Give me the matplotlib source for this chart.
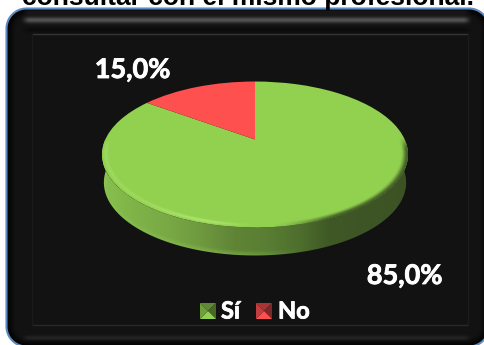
import numpy as np
import matplotlib
matplotlib.use("Agg")
import matplotlib.pyplot as plt
import matplotlib.patheffects as pe
from matplotlib.patches import PathPatch
from matplotlib.path import Path
from matplotlib.transforms import Transform
from matplotlib.colors import to_rgb

# --- data ---
categories = ["Sí", "No"]
values = [85.0, 15.0]
value_labels = ["85,0%", "15,0%"]
slice_colors = ["#92d050", "#ff5050"]
title_line = "consultar con el mismo profesional."

W, H = 484, 345

# --- pie geometry, in pixels ---
CX, CY = 255.0, 139.5
PIE_A, PIE_B, PIE_K = 149.7, 69.9, 0.2055
DEPTH = 28.0


class TiltTransform(Transform):
    """Perspective view of the unit circle, giving pixel coordinates."""
    input_dims = 2
    output_dims = 2

    def transform_non_affine(self, values):
        values = np.asarray(values, dtype=float)
        u, v = values[:, 0], values[:, 1]
        den = 1 + PIE_K * v
        return np.column_stack([CX + PIE_A * u / den, CY - PIE_B * v / den])


def smooth(a, b, x):
    t = np.clip((x - a) / (b - a), 0, 1)
    return t * t * (3 - 2 * t)


def rounded_rect(left, top, right, bottom, rad):
    """Closed path of a rectangle with circular corners."""
    centres = [(right - rad, top + rad), (right - rad, bottom - rad),
               (left + rad, bottom - rad), (left + rad, top + rad)]
    pts = []
    for i, (cx, cy) in enumerate(centres):
        a = np.linspace(-np.pi / 2, 0, 24) + i * np.pi / 2
        pts.append(np.column_stack([cx + rad * np.cos(a), cy + rad * np.sin(a)]))
    pts = np.vstack(pts)
    return Path(np.vstack([pts, pts[:1]]), closed=True)


fig = plt.figure(figsize=(W / 100, H / 100), dpi=100, facecolor="white")
ax = fig.add_axes([0, 0, 1, 1])
xx, yy = np.meshgrid(np.arange(W) + 0.5, np.arange(H) + 0.5)
extent = (0, W, H, 0)

# --- outer panel with its bevel ---
L, T, R, B, RAD = 6.5, 8.5, 489.0, 346.5, 20.0
panel_path = rounded_rect(L, T, R, B, RAD)
panel = PathPatch(panel_path, fc="#121212", ec="none", zorder=1)
ax.add_patch(panel)

qx = np.maximum(np.abs(xx - (L + R) / 2) - ((R - L) / 2 - RAD), 0)
qy = np.maximum(np.abs(yy - (T + B) / 2) - ((B - T) / 2 - RAD), 0)
inset = RAD - np.hypot(qx, qy)
gray = 0x12 * (0.15 + 0.85 * smooth(0, 10, inset))
window = smooth(20, 30, xx) * (1 - smooth(463, 473, xx))
gray = gray + 0x40 * np.exp(-((yy - 20) / 3.0) ** 2) * window
gray = gray + 0x10 * np.exp(-((yy - 12) / 3.0) ** 2) * window
gray = gray - 0x06 * np.exp(-((yy - 30) / 2.5) ** 2) * window
gray = gray + 0x12 * np.exp(-((yy - 338) / 2.5) ** 2) * window
bevel = ax.imshow(np.clip(gray, 0, 255) / 255, cmap="gray", vmin=0, vmax=1,
                  extent=extent, aspect="auto", interpolation="bilinear", zorder=2)
bevel.set_clip_path(panel)

ax.plot([32, 467], [34, 34], color="#343434", lw=1.0, zorder=3)
ax.plot([32, 467], [325, 325], color="#282828", lw=1.0, zorder=3)
ax.plot([32, 32], [34, 325], color="#1a1a1a", lw=1.0, zorder=3)
ax.plot([468, 468], [34, 325], color="#1c1c1c", lw=1.0, zorder=3)

ax.add_patch(PathPatch(panel_path, fc="none", ec="#5b8ac4", lw=1.5, zorder=4))

# --- side wall of the disc ---
tilt = TiltTransform()
t = np.linspace(np.pi, 2 * np.pi, 240)
rim = tilt.transform(np.column_stack([np.cos(t), np.sin(t)]))
lower = rim.copy()
lower[:, 0] = CX + (lower[:, 0] - CX) * 0.988
lower[:, 1] += DEPTH
wall_path = Path(np.vstack([rim, lower[::-1], rim[:1]]), closed=True)

wall_x = [100, 130, 170, 200, 235, 265, 300, 330, 410]
wall_c = ["#88c250", "#80b549", "#78a845", "#6f9a40", "#5f8436",
          "#5a7f34", "#4d6e2d", "#3f5826", "#3c5224"]
wall_rgb = np.array([to_rgb(c) for c in wall_c])
wall_img = np.dstack([np.interp(xx, wall_x, wall_rgb[:, i]) for i in range(3)])
y_low = np.interp(xx, lower[:, 0], lower[:, 1])
glow = (1 - smooth(0, 6, y_low - yy))[..., None] * (1 - smooth(230, 310, xx))[..., None]
wall_img = wall_img * (1 - 0.45 * glow) + np.array(to_rgb("#8cc552")) * 0.45 * glow
wall = ax.imshow(wall_img, extent=extent, aspect="auto", interpolation="bilinear", zorder=5)
wall_patch = PathPatch(wall_path, transform=ax.transData, fc="none", ec="none")
ax.add_patch(wall_patch)
wall.set_clip_path(wall_patch)

# --- top face ---
wedges, _ = ax.pie(values, colors=slice_colors, startangle=90, counterclock=False)
for w in wedges:
    w.set_transform(tilt + ax.transData)
    w.set_zorder(6)
    w.set_linewidth(0)
    w.set_clip_on(False)

# --- soft bevel along the front of the rim ---
Y = CY - yy
v_img = Y / (PIE_B - PIE_K * Y)
u_img = (xx - CX) * (1 + PIE_K * v_img) / PIE_A
r_img = np.hypot(u_img, v_img)
front = smooth(-0.05, 0.15, -v_img)
inside = 1 - smooth(0.997, 1.003, r_img)

light = np.exp(-((r_img - 0.975) / 0.014) ** 2) * (1 - smooth(205, 262, xx)) * front
light = light * (0.45 + 0.55 * smooth(130, 205, xx))
dark = smooth(0.955, 0.998, r_img) * smooth(270, 345, xx) * front
rim_rgba = np.zeros((H, W, 4))
alpha = np.maximum(light * 0.6, dark * 0.95) * inside
use_dark = dark > light
for i in range(3):
    rim_rgba[..., i] = np.where(use_dark, to_rgb("#3f5826")[i], to_rgb("#bdf27e")[i])
rim_rgba[..., 3] = alpha
ax.imshow(rim_rgba, extent=extent, aspect="auto", interpolation="bilinear", zorder=7)

# --- value labels ---
heavier = [pe.withStroke(linewidth=0.6, foreground="white")]
label_font = dict(family="Lato", weight="bold", color="white", fontsize=19.5, zorder=8,
                  path_effects=heavier)
ax.text(132.5, 70, value_labels[1], ha="center", va="center", **label_font)
ax.text(404.5, 276, value_labels[0], ha="center", va="center", **label_font)


# --- legend ---
def legend_key(x0, y0, size, base):
    """Square key with four shaded facets, like a small pyramid."""
    c = np.array(to_rgb(base))
    mid = (x0 + size / 2, y0 + size / 2)
    corners = [(x0, y0), (x0 + size, y0), (x0 + size, y0 + size), (x0, y0 + size)]
    shades = [0.66, 0.5, 1.0, 0.76]  # top, right, bottom, left
    for i, s in enumerate(shades):
        a, b = corners[i], corners[(i + 1) % 4]
        ax.fill([a[0], b[0], mid[0]], [a[1], b[1], mid[1]],
                color=np.clip(c * s, 0, 1), lw=0, zorder=8)


legend_font = dict(family="Lato", weight="bold", color="white", fontsize=17, zorder=8,
                   va="center", path_effects=heavier)
legend_key(200, 303, 16, slice_colors[0])
ax.text(221, 311, categories[0], ha="left", **legend_font)
legend_key(256, 303, 16, slice_colors[1])
ax.text(278, 311, categories[1], ha="left", **legend_font)

# title line, cut by the top edge of the image
ax.text(248.5, 5, title_line, family="Liberation Sans", weight="bold", fontsize=19.0,
        color="black", ha="center", va="baseline", zorder=9)

ax.set_aspect("auto")
ax.set_xlim(0, W)
ax.set_ylim(H, 0)
ax.axis("off")
fig.savefig("out.png", dpi=100, facecolor="white")
